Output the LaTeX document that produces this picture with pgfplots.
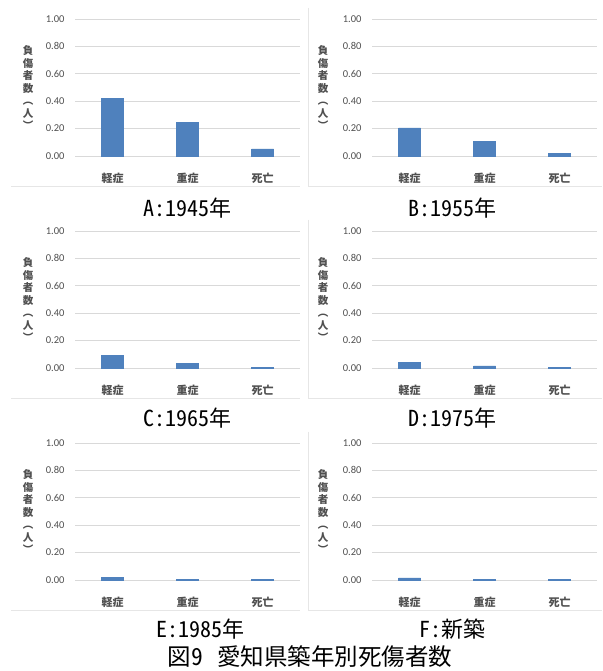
\documentclass[border=0pt]{standalone}
\usepackage{pgfplots}
\pgfplotsset{compat=1.18}
\usepackage{fontspec}
\setmainfont{Carlito}
\newfontfamily\jp{Noto Sans CJK JP}
\newfontfamily\jphw[RawFeature=+hwid]{Noto Sans CJK JP}
\definecolor{barblue}{RGB}{79,129,189}
\definecolor{txtgray}{RGB}{80,80,80}
\definecolor{gridgray}{RGB}{217,217,217}
\definecolor{bordergray}{RGB}{230,230,230}

\pgfplotsset{
  panel/.style={
    scale only axis, width=225pt, height=137pt,
    anchor=south west,
    xmin=-0.5, xmax=2.5, ymin=0, ymax=1,
    xtick={0,1,2}, xticklabels={軽症,重症,死亡},
    ytick={0,0.2,0.4,0.6,0.8,1},
    ybar, bar width=22pt,
    ymajorgrids, grid style={gridgray, line width=0.7pt},
    axis line style={draw=none},
    major tick style={draw=none},
    yticklabel style={font=\fontsize{10.5}{12}\selectfont, text=txtgray, xshift=-7pt,
      /pgf/number format/.cd, fixed, fixed zerofill, precision=2, assume math mode=true},
    xticklabel style={font=\jp\bfseries\fontsize{11}{13}\selectfont, text=txtgray, yshift=-9pt},
    clip=false,
  }
}

\newcommand{\ylab}[2]{\node[align=center, font=\jp\bfseries\fontsize{10.5}{12.5}\selectfont, text=txtgray, inner sep=0pt] at (#1pt,#2pt) {負\\傷\\者\\数\\︵\\人\\︶};}

\pgfplotstableread{
cat A B C D E F
0 0.42 0.205 0.09 0.042 0.017 0.015
1 0.245 0.105 0.033 0.015 0.004 0.003
2 0.052 0.02 0.005 0.004 0.004 0.003
}\data

\begin{document}
\begin{tikzpicture}
\path[use as bounding box, fill=white] (0pt,0pt) rectangle (602pt,671pt);
% chart area borders
\begin{scope}[bordergray, line width=0.6pt]
\draw (11pt,485pt) -- (300pt,485pt);
\draw (308pt,663pt) -- (308pt,485pt) -- (602pt,485pt);
\draw (11pt,273pt) -- (300pt,273pt);
\draw (308pt,451pt) -- (308pt,273pt) -- (602pt,273pt);
\draw (11pt,61pt) -- (300pt,61pt);
\draw (308pt,239pt) -- (308pt,61pt) -- (602pt,61pt);
\end{scope}

\begin{axis}[panel, at={(75pt,515pt)}]
\addplot[fill=barblue, draw=barblue] table[x=cat, y=A] {\data};
\end{axis}
\begin{axis}[panel, at={(372pt,515pt)}]
\addplot[fill=barblue, draw=barblue] table[x=cat, y=B] {\data};
\end{axis}
\begin{axis}[panel, at={(75pt,303pt)}]
\addplot[fill=barblue, draw=barblue] table[x=cat, y=C] {\data};
\end{axis}
\begin{axis}[panel, at={(372pt,303pt)}]
\addplot[fill=barblue, draw=barblue] table[x=cat, y=D] {\data};
\end{axis}
\begin{axis}[panel, at={(75pt,91pt)}]
\addplot[fill=barblue, draw=barblue] table[x=cat, y=E] {\data};
\end{axis}
\begin{axis}[panel, at={(372pt,91pt)}]
\addplot[fill=barblue, draw=barblue] table[x=cat, y=F] {\data};
\end{axis}

\ylab{28}{583}
\ylab{323}{583}
\ylab{28}{371}
\ylab{323}{371}
\ylab{28}{159}
\ylab{323}{159}

\begin{scope}[every node/.style={font=\jphw\fontsize{22}{26}\selectfont, inner sep=0pt}]
\node at (187pt,463pt) {A:1945年};
\node at (452pt,463pt) {B:1955年};
\node at (187pt,253pt) {C:1965年};
\node at (452pt,253pt) {D:1975年};
\node at (200pt,42pt) {E:1985年};
\node at (452pt,42pt) {F:新築};
\node[font=\jphw\fontsize{23.5}{26}\selectfont] at (310pt,14pt) {図9\hspace{14pt}愛知県築年別死傷者数};
\end{scope}
\end{tikzpicture}
\end{document}
